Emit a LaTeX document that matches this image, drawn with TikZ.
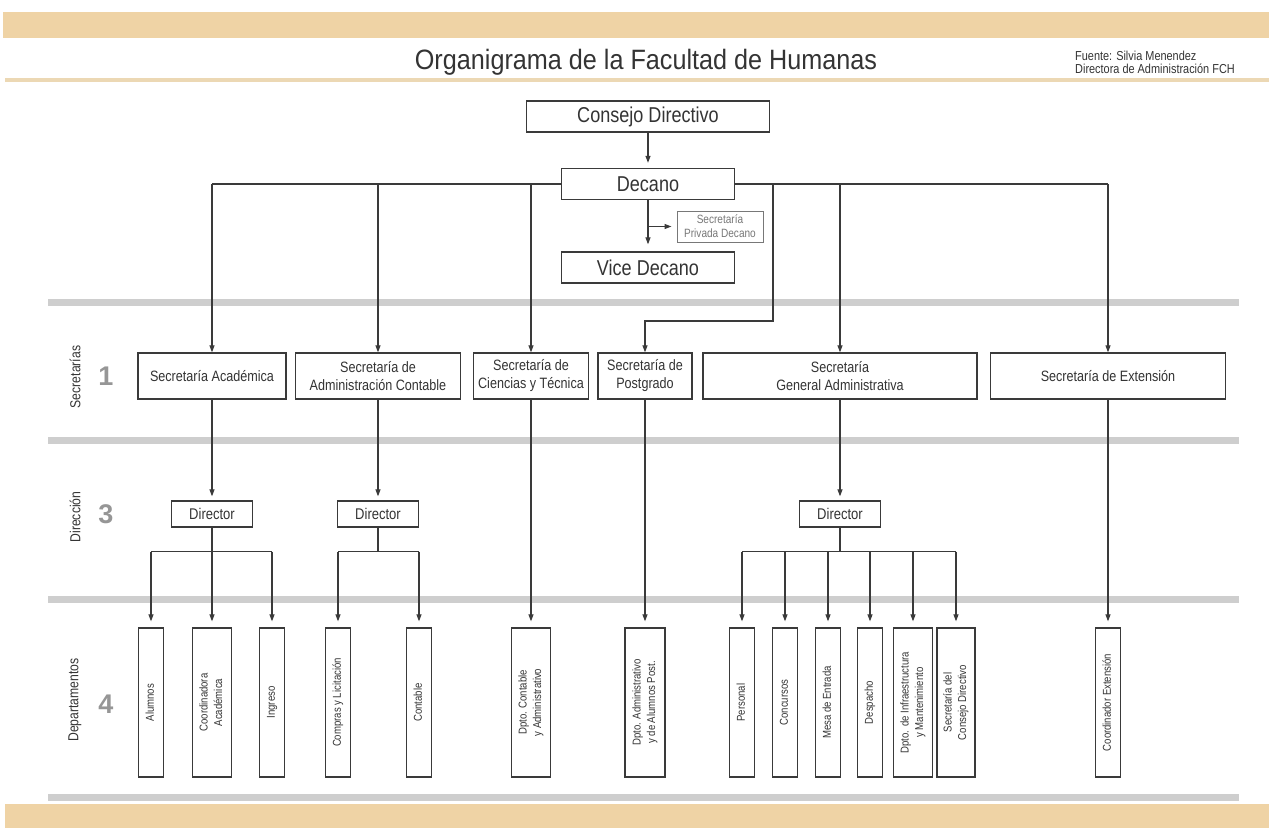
\documentclass[tikz,border=0pt]{standalone}
\usepackage{fontspec}
\setmainfont[FakeStretch=0.84]{Liberation Sans}
\newfontfamily\numfont{Liberation Sans}
\newfontfamily\titfont[FakeStretch=0.9]{Liberation Sans}
\usepackage{graphicx}
\usetikzlibrary{calc}
\usetikzlibrary{positioning}
\usetikzlibrary{arrows.meta}

\definecolor{franja}{RGB}{239,211,165}
\definecolor{lineatan}{RGB}{236,216,180}
\definecolor{grisbarra}{RGB}{206,206,206}
\definecolor{trazo}{RGB}{58,58,58}
\definecolor{texto}{RGB}{52,52,52}
\definecolor{grisnum}{RGB}{150,150,150}
\definecolor{trazoclaro}{RGB}{120,120,120}

\newcommand{\girado}[1]{\rotatebox{90}{\begin{tabular}{@{}c@{}}#1\end{tabular}}}

\begin{document}
\begin{tikzpicture}[x=1pt,y=-1pt]
\useasboundingbox (0,0) rectangle (1269,828);

\tikzset{every node/.style={text=texto, align=center, inner sep=0pt},
  caja/.style={draw=trazo, line width=1.3pt, fill=white},
  grande/.style={caja, minimum width=173pt, minimum height=31pt, font=\fontsize{21.5}{23}\selectfont},
  secre/.style={caja, minimum height=46pt, font=\fontsize{15}{18}\selectfont},
  director/.style={caja, minimum width=81pt, minimum height=26pt, font=\fontsize{15.5}{17}\selectfont},
  depto/.style={caja, minimum width=25pt, minimum height=149pt, font=\fontsize{11.4}{14.5}\selectfont},
  deptoancho/.style={depto, minimum width=39pt},
  nivel/.style={rotate=90, font=\fontsize{14.5}{16}\selectfont},
  numero/.style={text=grisnum, font=\numfont\bfseries\fontsize{27}{27}\selectfont},
  conector/.style={draw=trazo, line width=1.1pt},
  flecha/.style={conector, -{Triangle[length=7pt,width=5pt]}}}

\fill[franja] (3,12) rectangle (1269,38);
\fill[lineatan] (5,78) rectangle (1269,82);
\foreach \y in {302,440,599,797}
  \fill[grisbarra] (48,\y-3.5) rectangle (1239,\y+3.5);
\fill[franja] (5,804) rectangle (1269,828);

\node[font=\titfont\fontsize{28}{28}\selectfont] (titulo) at (646,62) {Organigrama de la Facultad de Humanas};
\node[anchor=west, align=left, font=\fontsize{13}{13.5}\selectfont] (fuente) at (1075,62.5) {Fuente: Silvia Menendez\\Directora de Administración FCH};

\node[nivel] (lsec) at (75,377) {Secretarías};
\node[numero] (n1) at (106,376) {1};
\node[nivel] (ldir) at (75,517) {Dirección};
\node[numero] (n3) at (106,514) {3};
\node[nivel] (ldep) at (75,700) {Departamentos};
\node[numero] (n4) at (106,704) {4};

\node[grande, minimum width=243pt] (consejo) at (648,116.5) {Consejo Directivo};
\node[grande] (decano) at (648,184) {Decano};
\node[grande] (vice) at (648,267.5) {Vice Decano};
\node[caja, draw=trazoclaro, line width=1pt, minimum width=86pt, minimum height=31pt, font=\fontsize{12}{14}\selectfont, text=trazoclaro] (privada) at (720,226.5) {Secretaría\\Privada Decano};

\node[secre, minimum width=148pt] (acad) at (212,376) {Secretaría Académica};
\node[secre, minimum width=165pt] (contable) at (378,376) {Secretaría de\\Administración Contable};
\node[secre, minimum width=115pt] (ciencias) at (531,376) {Secretaría de\\Ciencias y Técnica};
\node[secre, minimum width=94pt] (postgrado) at (645,376) {Secretaría de\\Postgrado};
\node[secre, minimum width=274pt] (general) at (840,376) {Secretaría\\General Administrativa};
\node[secre, minimum width=235pt] (extension) at (1108,376) {Secretaría de Extensión};

\node[director] (dir1) at (212,514) {Director};
\node[director] (dir2) at (378,514) {Director};
\node[director] (dir3) at (840,514) {Director};

\node[depto] (alumnos) at (151,702.5) {\girado{Alumnos}};
\node[deptoancho] (coordacad) at (212,702.5) {\girado{Coordinadora\\Académica}};
\node[depto] (ingreso) at (272,702.5) {\girado{Ingreso}};
\node[depto] (compras) at (338,702.5) {\girado{Compras y Licitación}};
\node[depto] (contab) at (419,702.5) {\girado{Contable}};
\node[deptoancho] (dptocont) at (531,702.5) {\girado{Dpto. Contable\\y Administrativo}};
\node[deptoancho, minimum width=40pt] (dptopost) at (645,702.5) {\girado{Dpto. Administrativo\\y de Alumnos Post.}};
\node[depto] (personal) at (742,702.5) {\girado{Personal}};
\node[depto] (concursos) at (785,702.5) {\girado{Concursos}};
\node[depto] (mesa) at (828,702.5) {\girado{Mesa de Entrada}};
\node[depto] (despacho) at (870,702.5) {\girado{Despacho}};
\node[deptoancho] (infra) at (913,702.5) {\girado{Dpto. de Infraestructura\\y Mantenimiento}};
\node[deptoancho, minimum width=38pt] (secconsejo) at (956,702.5) {\girado{Secretaría del\\Consejo Directivo}};
\node[depto] (coordext) at (1108,702.5) {\girado{Coordinador Extensión}};

\coordinate (codo) at (773,321);
\coordinate (rama1) at ($(dir1.south)+(0,24)$);
\coordinate (rama2) at ($(dir2.south)+(0,24)$);
\coordinate (rama3) at ($(dir3.south)+(0,24)$);

\draw[flecha, shorten >=5pt] (consejo) -- (decano);
\draw[flecha, shorten >=7pt] (decano) -- (vice);
\draw[flecha, shorten >=5pt] (decano.south |- privada.west) -- (privada.west);

\draw[conector] (acad.north |- decano.west) -- (decano.west)
  (decano.east) -- (extension.north |- decano.east);
\foreach \s in {acad,contable,ciencias,general,extension}
  \draw[flecha] (\s.north |- decano.west) -- (\s.north);
\draw[flecha] (codo |- decano.east) -- (codo) -| (postgrado.north);

\draw[flecha, shorten >=4pt] (acad) -- (dir1);
\draw[flecha, shorten >=4pt] (contable) -- (dir2);
\draw[flecha, shorten >=4pt] (general) -- (dir3);

\draw[conector] (dir1.south) -- (rama1) (alumnos.north |- rama1) -- (ingreso.north |- rama1)
  (dir2.south) -- (rama2) (compras.north |- rama2) -- (contab.north |- rama2)
  (dir3.south) -- (rama3) (personal.north |- rama3) -- (secconsejo.north |- rama3);

\foreach \d in {alumnos,coordacad,ingreso}
  \draw[flecha, shorten >=6pt] (\d.north |- rama1) -- (\d.north);
\foreach \d in {compras,contab}
  \draw[flecha, shorten >=6pt] (\d.north |- rama2) -- (\d.north);
\foreach \d in {personal,concursos,mesa,despacho,infra,secconsejo}
  \draw[flecha, shorten >=6pt] (\d.north |- rama3) -- (\d.north);

\draw[flecha, shorten >=6pt] (ciencias) -- (dptocont);
\draw[flecha, shorten >=6pt] (postgrado) -- (dptopost);
\draw[flecha, shorten >=6pt] (extension) -- (coordext);
\end{tikzpicture}
\end{document}
